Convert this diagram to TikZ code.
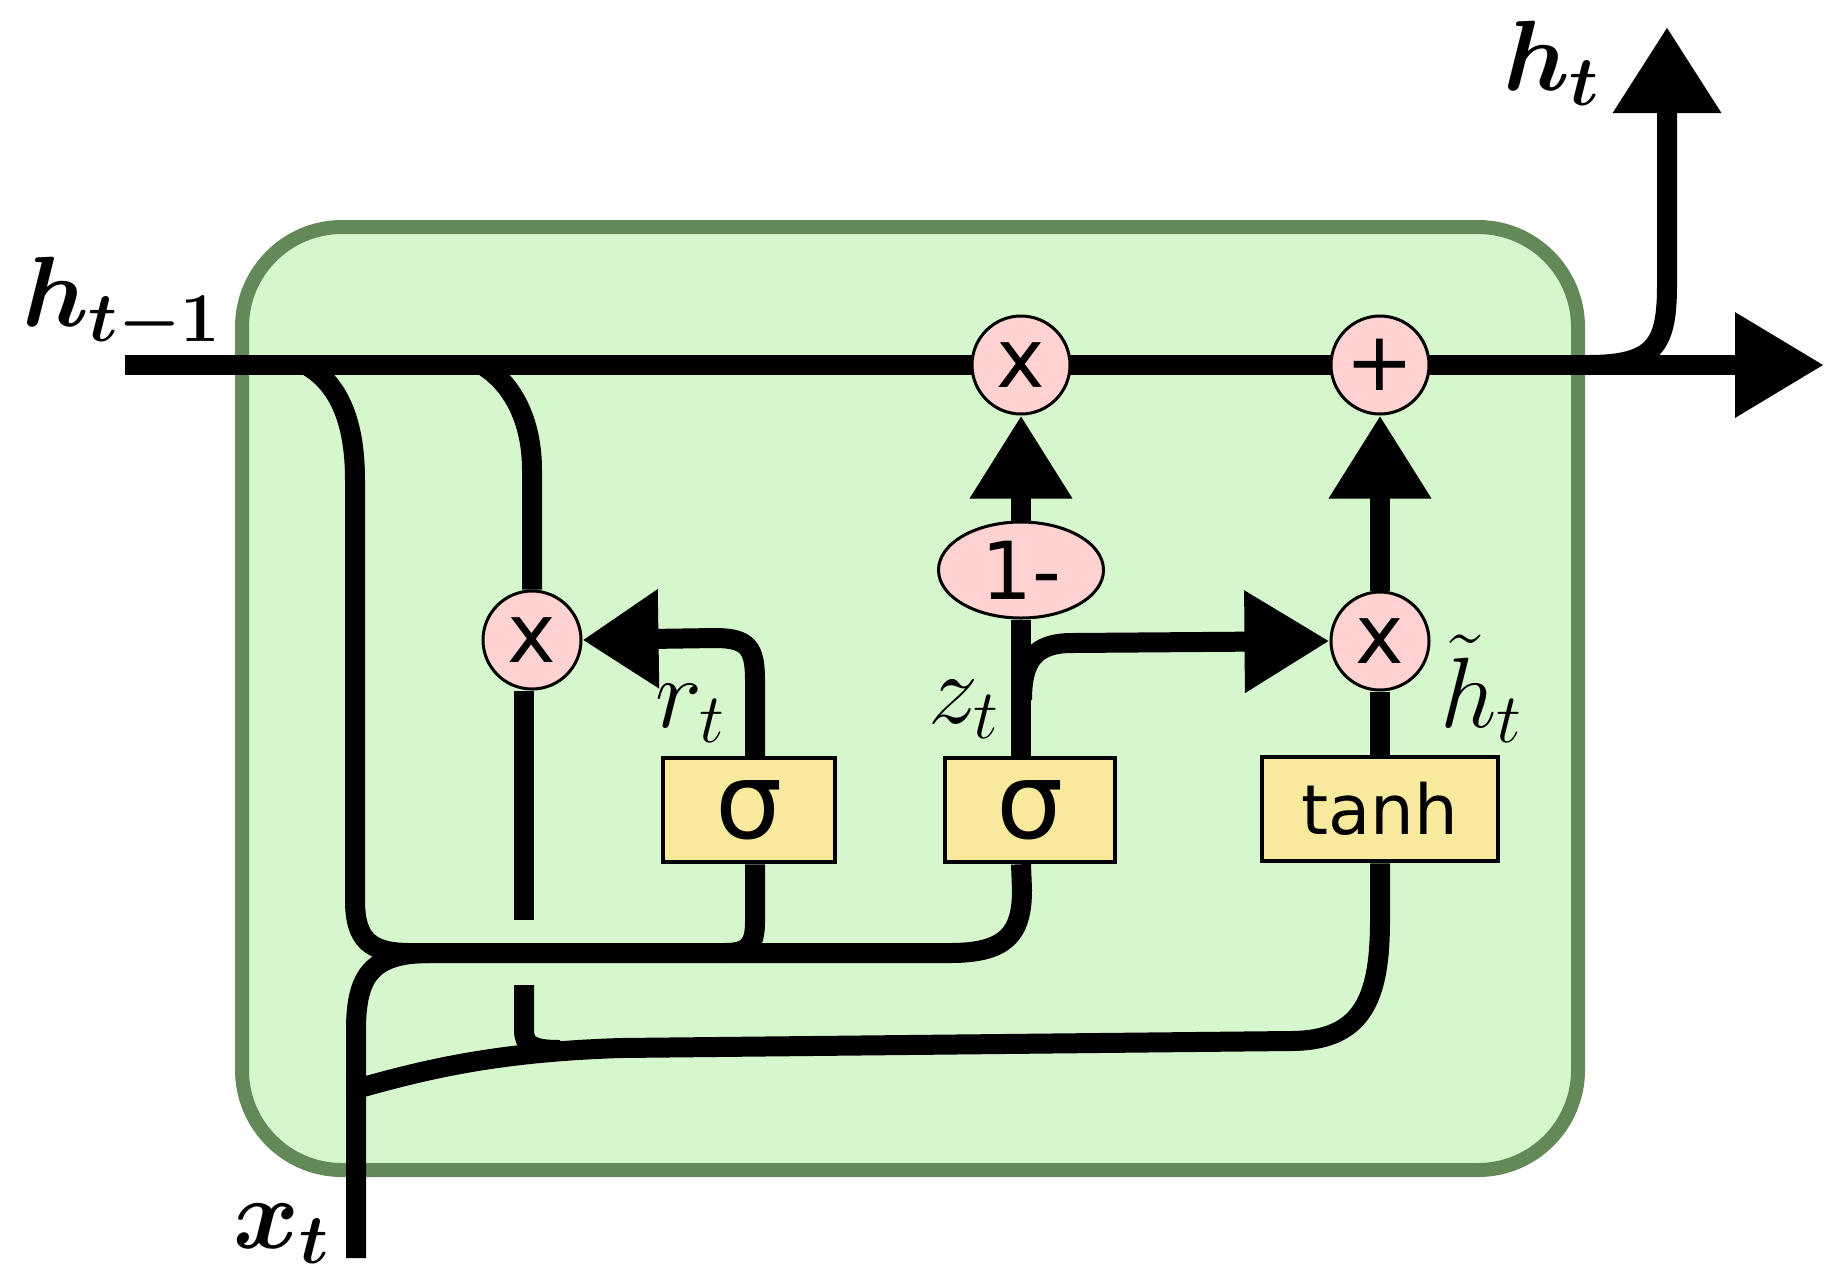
\RequirePackage{fix-cm}
\documentclass[tikz,border=0pt]{standalone}
\usepackage{fontspec}
\newfontfamily\dv{DejaVu Sans}
\usetikzlibrary{arrows.meta,shapes.geometric}
\pgfdeclarelayer{back}
\pgfdeclarelayer{wires}
\pgfsetlayers{back,wires,main}
\definecolor{cellfill}{RGB}{214,246,206}
\definecolor{cellline}{RGB}{100,137,88}
\definecolor{oppink}{RGB}{255,210,210}
\definecolor{gateyel}{RGB}{248,234,156}
\tikzset{
  wire/.style={line width=20pt, draw=black},
  cellbox/.style={rectangle, draw=cellline, fill=cellfill, line width=14pt, rounded corners=100pt, minimum width=1336pt, minimum height=943pt, inner sep=0pt},
  opnode/.style={circle, draw=black, line width=3pt, fill=oppink, minimum size=98pt, inner sep=0pt, font=\dv\fontsize{82}{82}\selectfont},
  onenode/.style={ellipse, draw=black, line width=3pt, fill=oppink, minimum width=165pt, minimum height=96pt, inner sep=0pt, font=\dv\fontsize{80}{80}\selectfont},
  gatebox/.style={rectangle, draw=black, line width=4.5pt, fill=gateyel, minimum height=104pt, inner sep=0pt},
  lbl/.style={inner sep=0pt, font=\fontsize{100}{100}\selectfont},
  boldlbl/.style={inner sep=0pt, font=\fontsize{100}{100}\selectfont\boldmath},
  bigarrow/.style={-{Triangle[length=85pt,width=97pt]}},
}
\begin{document}
\begin{tikzpicture}[x=1pt,y=-1pt]
\useasboundingbox (0,0) rectangle (1846,1278);
% operation nodes
\node[opnode] (m1) at (1021,365) {x};
\node[opnode] (add) at (1380,365) {+};
\node[onenode] (om) at (1021,570) {1-};
\node[opnode] (rm) at (532,640) {x};
\node[opnode] (hm) at (1380,641) {x};
\node[gatebox, minimum width=172pt, font=\dv\fontsize{106}{106}\selectfont] (s1) at (749,810) {σ};
\node[gatebox, minimum width=170pt, font=\dv\fontsize{106}{106}\selectfont] (s2) at (1030,810) {σ};
\node[gatebox, minimum width=236pt, font=\dv\fontsize{69}{69}\selectfont] (th) at (1380,809) {tanh};
% labels
\node[boldlbl, anchor=base west] (lhin) at (22,326) {$h_{t-1}$};
\node[boldlbl, anchor=base west] (lhout) at (1503,90) {$h_t$};
\node[boldlbl, anchor=base west] (lx) at (233,1248) {$x_t$};
\node[lbl, anchor=base west] (lr) at (655,727) {$r_t$};
\node[lbl, anchor=base west] (lz) at (928,723) {$z_t$};
\node[lbl, anchor=base west] (lht) at (1440,727) {$\tilde{h}_t$};
% free ends and junctions
\coordinate (hin) at (125,365);
\coordinate (hout) at (1824,365);
\coordinate (jout) at (1588,365);
\coordinate (htop) at (1667,27);
\coordinate (xin) at (356,1258);
\coordinate (jb1) at (306,365);
\coordinate (jb2) at (482,365);
\coordinate (jx) at (356,1089);
\coordinate (zj) at (1022,700);
\coordinate (rcol) at (524,0);
\coordinate (scol) at (755,0);
\coordinate (rgap1) at (524,920);
\coordinate (rgap2) at (524,985);
\begin{pgfonlayer}{back}
\node[cellbox] (cell) at (910,698.5) {};
\end{pgfonlayer}
\begin{pgfonlayer}{wires}
% main state line
\draw[wire,-{Triangle[length=89pt,width=100pt]}] (hin) -- (hout);
\draw[wire,-{Triangle[length=86pt,width=103pt]}] (jout) .. controls (1655,365) and (1667,345) .. (1667,285) -- (htop);
% branch of h_{t-1} to the gates
\draw[wire] (jb1) .. controls (338,383) and (355,420) .. (355,480) -- (355,900) .. controls (355,940) and (370,953) .. (410,953) -- (950,953) .. controls (1005,953) and (1022,935) .. (1022,890) -- (s2.south -| om.south);
% branch of h_{t-1} to the reset product
\draw[wire] (jb2) .. controls (512,383) and (532,420) .. (532,470) -- (rm.north);
\draw[wire] (rm.south -| rcol) -- (rgap1);
\draw[wire] (rgap2) -- (524,1030) .. controls (524,1045) and (532,1050) .. (560,1050);
% input x_t
\draw[wire] (xin) -- (356,1030) .. controls (356,975) and (372,953) .. (430,953);
\draw[wire] (jx) .. controls (430,1068) and (500,1052) .. (620,1048) -- (1290,1041) .. controls (1362,1041) and (1380,1000) .. (1380,920) -- (th.south);
% reset gate
\draw[wire] (s1.south -| scol) -- (755,922) .. controls (755,945) and (748,953) .. (725,953);
\draw[wire,-{Triangle[length=76pt,width=94pt]}] (s1.north -| scol) -- (755,680) .. controls (755,648) and (748,638) .. (715,638) -- (rm.east);
% update gate
\draw[wire] (s2.north -| om.south) -- (om.south);
\draw[wire,bigarrow] (zj) .. controls (1022,660) and (1035,643) .. (1072,643) -- (hm.west);
\draw[wire,-{Triangle[length=83pt,width=97pt]}] (om.north) -- (m1.south);
% candidate
\draw[wire] (th.north) -- (hm.south);
\draw[wire,-{Triangle[length=83pt,width=97pt]}] (hm.north) -- (add.south);
\end{pgfonlayer}
\end{tikzpicture}
\end{document}
